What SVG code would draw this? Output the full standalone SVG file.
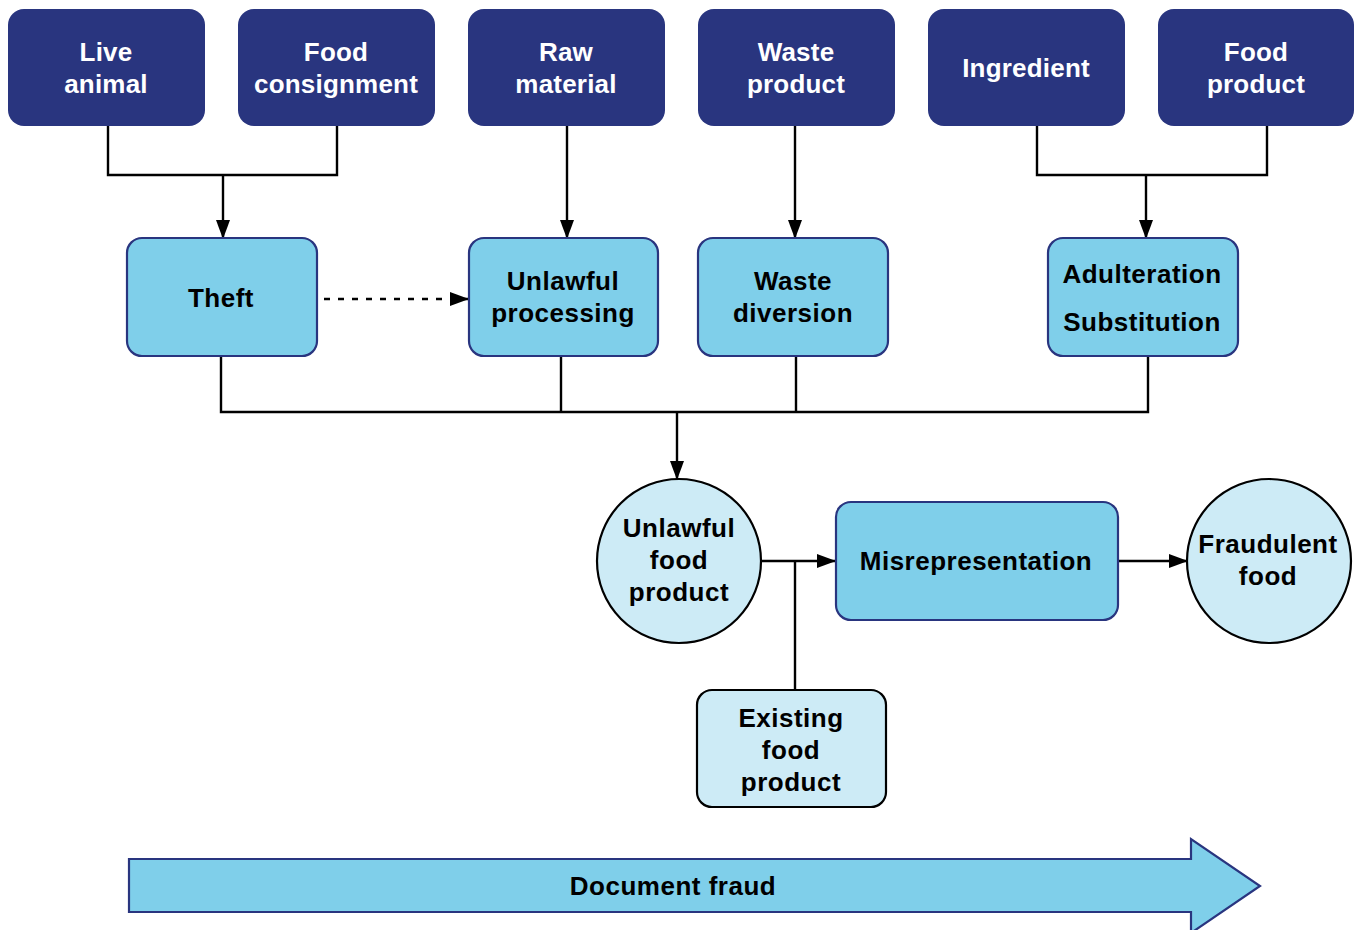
<svg xmlns="http://www.w3.org/2000/svg" width="1362" height="930" viewBox="0 0 1362 930">
<style>
.top{fill:#29357f;}
.mid{fill:#7fcfea;stroke:#29357f;stroke-width:2.2;}
.pale{fill:#cdebf6;stroke:#000;stroke-width:2.2;}
.tw{font-family:"Liberation Sans",Arial,sans-serif;font-weight:bold;font-size:26px;fill:#fff;text-anchor:middle;letter-spacing:0.2px;}
.tb{font-family:"Liberation Sans",Arial,sans-serif;font-weight:bold;font-size:26px;fill:#000;text-anchor:middle;letter-spacing:0.5px;}
.ln{fill:none;stroke:#000;stroke-width:2.4;}
.dash{fill:none;stroke:#000;stroke-width:2.4;stroke-dasharray:6 8;}
</style>
<defs>
<marker id="ah" markerUnits="userSpaceOnUse" markerWidth="19" markerHeight="14" refX="18" refY="7" orient="auto">
<path d="M0,0 L19,7 L0,14 Z" fill="#000"/>
</marker>
</defs>
<rect width="1362" height="930" fill="#fff"/>

<g id="connectors">
<polyline class="ln" points="108,125 108,175 337,175 337,125"/>
<line class="ln" x1="223" y1="175" x2="223" y2="238" marker-end="url(#ah)"/>
<line class="ln" x1="567" y1="125" x2="567" y2="238" marker-end="url(#ah)"/>
<line class="ln" x1="795" y1="125" x2="795" y2="238" marker-end="url(#ah)"/>
<polyline class="ln" points="1037,125 1037,175 1267,175 1267,125"/>
<line class="ln" x1="1146" y1="175" x2="1146" y2="238" marker-end="url(#ah)"/>
<line class="dash" x1="324" y1="299" x2="468" y2="299" marker-end="url(#ah)"/>
<polyline class="ln" points="221,356 221,412 1148,412 1148,356"/>
<line class="ln" x1="561" y1="356" x2="561" y2="412"/>
<line class="ln" x1="796" y1="356" x2="796" y2="412"/>
<line class="ln" x1="677" y1="412" x2="677" y2="479" marker-end="url(#ah)"/>
<line class="ln" x1="761" y1="561" x2="835" y2="561" marker-end="url(#ah)"/>
<line class="ln" x1="795" y1="561" x2="795" y2="690"/>
<line class="ln" x1="1118" y1="561" x2="1187" y2="561" marker-end="url(#ah)"/>
</g>

<g id="live-animal">
<rect class="top" x="8" y="9" width="197" height="117" rx="16"/>
<text class="tw" x="106" y="61">Live</text>
<text class="tw" x="106" y="93">animal</text>
</g>
<g id="food-consignment">
<rect class="top" x="238" y="9" width="197" height="117" rx="16"/>
<text class="tw" x="336" y="61">Food</text>
<text class="tw" x="336" y="93">consignment</text>
</g>
<g id="raw-material">
<rect class="top" x="468" y="9" width="197" height="117" rx="16"/>
<text class="tw" x="566" y="61">Raw</text>
<text class="tw" x="566" y="93">material</text>
</g>
<g id="waste-product">
<rect class="top" x="698" y="9" width="197" height="117" rx="16"/>
<text class="tw" x="796" y="61">Waste</text>
<text class="tw" x="796" y="93">product</text>
</g>
<g id="ingredient">
<rect class="top" x="928" y="9" width="197" height="117" rx="16"/>
<text class="tw" x="1026" y="77">Ingredient</text>
</g>
<g id="food-product">
<rect class="top" x="1158" y="9" width="196" height="117" rx="16"/>
<text class="tw" x="1256" y="61">Food</text>
<text class="tw" x="1256" y="93">product</text>
</g>

<g id="theft">
<rect class="mid" x="127" y="238" width="190" height="118" rx="15"/>
<text class="tb" x="221" y="307">Theft</text>
</g>
<g id="unlawful-processing">
<rect class="mid" x="469" y="238" width="189" height="118" rx="15"/>
<text class="tb" x="563" y="290">Unlawful</text>
<text class="tb" x="563" y="322">processing</text>
</g>
<g id="waste-diversion">
<rect class="mid" x="698" y="238" width="190" height="118" rx="15"/>
<text class="tb" x="793" y="290">Waste</text>
<text class="tb" x="793" y="322">diversion</text>
</g>
<g id="adulteration-substitution">
<rect class="mid" x="1048" y="238" width="190" height="118" rx="15"/>
<text class="tb" x="1142" y="283">Adulteration</text>
<text class="tb" x="1142" y="331">Substitution</text>
</g>

<g id="unlawful-food-product">
<circle class="pale" cx="679" cy="561" r="82"/>
<text class="tb" x="679" y="537">Unlawful</text>
<text class="tb" x="679" y="569">food</text>
<text class="tb" x="679" y="601">product</text>
</g>
<g id="misrepresentation">
<rect class="mid" x="836" y="502" width="282" height="118" rx="15"/>
<text class="tb" x="976" y="570">Misrepresentation</text>
</g>
<g id="fraudulent-food">
<circle class="pale" cx="1269" cy="561" r="82"/>
<text class="tb" x="1268" y="553">Fraudulent</text>
<text class="tb" x="1268" y="585">food</text>
</g>
<g id="existing-food-product">
<rect class="pale" x="697" y="690" width="189" height="117" rx="15"/>
<text class="tb" x="791" y="727">Existing</text>
<text class="tb" x="791" y="759">food</text>
<text class="tb" x="791" y="791">product</text>
</g>

<g id="document-fraud">
<polygon class="mid" points="129,859 1191,859 1191,839 1260,886 1191,933 1191,912 129,912"/>
<text class="tb" x="673" y="895">Document fraud</text>
</g>
</svg>
